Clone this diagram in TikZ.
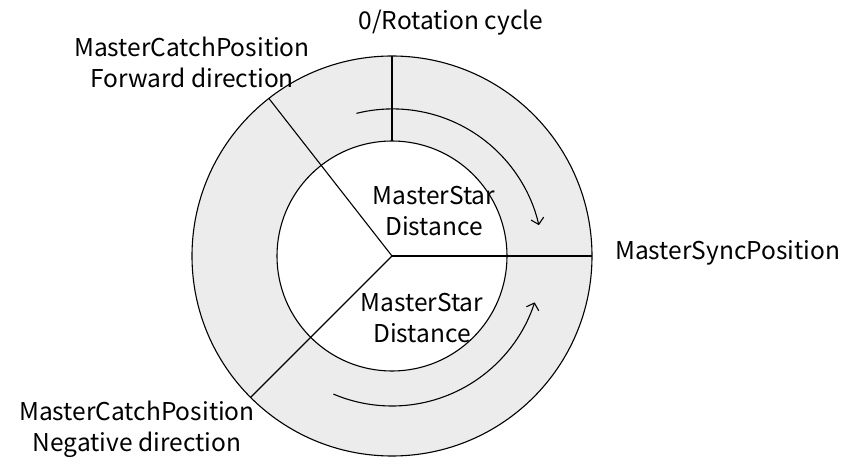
\documentclass[tikz,border=0pt]{standalone}
\usepackage{fontspec}
\setmainfont{Noto Sans CJK SC}
\usetikzlibrary{arrows.meta}
\definecolor{ringgray}{RGB}{236,236,236}
\tikzset{
  rim/.style={draw=black, line width=1.1pt},
  turn/.style={draw=black, line width=1.1pt, ->},
  tag/.style={align=center, inner sep=0pt}
}
\begin{document}
\begin{tikzpicture}[x=1pt, y=1pt, >={Straight Barb[length=6pt,width=13pt]},
    font=\fontsize{24.5}{31}\selectfont]
    \useasboundingbox (-392,-212) rectangle (461,256);
    \coordinate (O) at (0,0);

    % 圆环
    \fill[ringgray] (O) circle (200);
    \fill[white] (O) circle (115);
    \draw[rim] (O) circle (200);
    \draw[rim] (O) circle (115);

    % 分隔线
    \coordinate (zeroIn) at (90:115);
    \coordinate (zeroOut) at (90:200);
    \coordinate (syncOut) at (0:200);
    \coordinate (fwdOut) at (128:200);
    \coordinate (negOut) at (225:200);
    \draw[rim] (zeroIn) -- (zeroOut);
    \draw[rim] (O) -- (syncOut);
    \draw[rim] (O) -- (fwdOut);
    \draw[rim] (O) -- (negOut);

    % 方向箭头
    \draw[turn] (104:147) arc[start angle=104, end angle=13, radius=150];
    \draw[turn] (247:150) arc[start angle=247, end angle=342, radius=150];

    % 标签
    \node[tag] (zero) at (59,233) {0/Rotation cycle};
    \node[tag] (fwd) at (-200,194) {MasterCatchPosition\\Forward direction};
    \node[tag] (neg) at (-255,-173) {MasterCatchPosition\\Negative direction};
    \node[tag, anchor=west] (sync) at (223,3) {MasterSyncPosition};
    \node[tag] (distUp) at (42,45) {MasterStar\\Distance};
    \node[tag] (distDown) at (30,-62) {MasterStar\\Distance};
\end{tikzpicture}
\end{document}
